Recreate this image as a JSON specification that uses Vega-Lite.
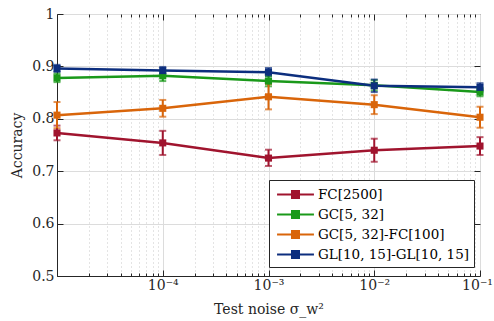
{
  "$schema": "https://vega.github.io/schema/vega-lite/v6.json",
  "autosize": "none",
  "width": 423,
  "height": 262,
  "padding": {"left": 57, "top": 14, "right": 14, "bottom": 45},
  "background": "white",
  "config": {
    "view": {"stroke": "#262626", "strokeWidth": 1},
    "font": "DejaVu Serif",
    "axis": {"labelFont": "DejaVu Serif", "titleFont": "DejaVu Serif", "labelColor": "#262626", "titleColor": "#262626", "titleFontWeight": "normal", "domainColor": "#262626", "tickColor": "#262626"}
  },
  "data": {"values": [
    {"series": "FC[2500]", "x": 0.00001, "y": 0.773, "lo": 0.759, "hi": 0.787},
    {"series": "FC[2500]", "x": 0.0001, "y": 0.754, "lo": 0.731, "hi": 0.777},
    {"series": "FC[2500]", "x": 0.001, "y": 0.725, "lo": 0.710, "hi": 0.741},
    {"series": "FC[2500]", "x": 0.01, "y": 0.740, "lo": 0.718, "hi": 0.762},
    {"series": "FC[2500]", "x": 0.1, "y": 0.748, "lo": 0.731, "hi": 0.765},
    {"series": "GC[5, 32]", "x": 0.00001, "y": 0.878, "lo": 0.870, "hi": 0.886},
    {"series": "GC[5, 32]", "x": 0.0001, "y": 0.882, "lo": 0.872, "hi": 0.892},
    {"series": "GC[5, 32]", "x": 0.001, "y": 0.872, "lo": 0.862, "hi": 0.882},
    {"series": "GC[5, 32]", "x": 0.01, "y": 0.864, "lo": 0.854, "hi": 0.874},
    {"series": "GC[5, 32]", "x": 0.1, "y": 0.851, "lo": 0.843, "hi": 0.859},
    {"series": "GC[5, 32]-FC[100]", "x": 0.00001, "y": 0.807, "lo": 0.782, "hi": 0.832},
    {"series": "GC[5, 32]-FC[100]", "x": 0.0001, "y": 0.820, "lo": 0.804, "hi": 0.836},
    {"series": "GC[5, 32]-FC[100]", "x": 0.001, "y": 0.842, "lo": 0.818, "hi": 0.866},
    {"series": "GC[5, 32]-FC[100]", "x": 0.01, "y": 0.827, "lo": 0.809, "hi": 0.845},
    {"series": "GC[5, 32]-FC[100]", "x": 0.1, "y": 0.803, "lo": 0.783, "hi": 0.823},
    {"series": "GL[10, 15]-GL[10, 15]", "x": 0.00001, "y": 0.896, "lo": 0.889, "hi": 0.903},
    {"series": "GL[10, 15]-GL[10, 15]", "x": 0.0001, "y": 0.892, "lo": 0.885, "hi": 0.899},
    {"series": "GL[10, 15]-GL[10, 15]", "x": 0.001, "y": 0.889, "lo": 0.881, "hi": 0.897},
    {"series": "GL[10, 15]-GL[10, 15]", "x": 0.01, "y": 0.863, "lo": 0.851, "hi": 0.875},
    {"series": "GL[10, 15]-GL[10, 15]", "x": 0.1, "y": 0.860, "lo": 0.852, "hi": 0.868}
  ]},
  "resolve": {"axis": {"x": "independent", "y": "independent"}},
  "layer": [
    {
      "mark": {"type": "line", "strokeWidth": 2.5},
      "encoding": {
        "x": {"field": "x", "type": "quantitative",
          "scale": {"type": "log", "domain": [0.00001, 0.1], "nice": false},
          "axis": {
            "orient": "bottom",
            "title": "Test noise σ_w²",
            "titleFontSize": 14, "titlePadding": 7,
            "labelFontSize": 14,
            "values": [0.00002,0.00003,0.00004,0.00005,0.00006,0.00007,0.00008,0.00009,0.0001,0.0002,0.0003,0.0004,0.0005,0.0006,0.0007,0.0008,0.0009,0.001,0.002,0.003,0.004,0.005,0.006,0.007,0.008,0.009,0.01,0.02,0.03,0.04,0.05,0.06,0.07,0.08,0.09,0.1],
            "labelExpr": "datum.value == 0.0001 ? '10⁻⁴' : datum.value == 0.001 ? '10⁻³' : datum.value == 0.01 ? '10⁻²' : datum.value == 0.1 ? '10⁻¹' : ''",
            "labelFlush": false,
            "labelOverlap": false,
            "labelPadding": 8,
            "labelOffset": {"condition": {"test": "datum.value == 0.1", "value": -3}, "value": 0},
            "grid": true,
            "gridColor": {"condition": {"test": "datum.value == 0.0001 || datum.value == 0.001 || datum.value == 0.01 || datum.value == 0.1", "value": "#DCDCDC"}, "value": "#C8C8C8"},
            "gridDash": {"condition": {"test": "datum.value == 0.0001 || datum.value == 0.001 || datum.value == 0.01 || datum.value == 0.1", "value": []}, "value": [1, 3]},
            "tickSize": {"condition": {"test": "datum.value == 0.0001 || datum.value == 0.001 || datum.value == 0.01 || datum.value == 0.1", "value": -6}, "value": -3}
          }},
        "y": {"field": "y", "type": "quantitative",
          "scale": {"domain": [0.5, 1], "nice": false, "zero": false},
          "axis": {"orient": "left", "title": "Accuracy", "titleFontSize": 14, "titlePadding": 7,
            "labelFontSize": 14, "values": [0.5, 0.6, 0.7, 0.8, 0.9, 1], "format": "~g",
            "labelPadding": 9, "tickSize": -6, "grid": true, "gridColor": "#DCDCDC", "labelFlush": false}},
        "color": {"field": "series", "type": "nominal",
          "scale": {"domain": ["FC[2500]", "GC[5, 32]", "GC[5, 32]-FC[100]", "GL[10, 15]-GL[10, 15]"],
                    "range": ["#A0142E", "#1A991A", "#D9650A", "#0C2E7E"]},
          "legend": {
            "orient": "none", "legendX": 212, "legendY": 166,
            "title": null, "fillColor": "white", "strokeColor": "#262626",
            "padding": 4, "rowPadding": 1,
            "labelFont": "DejaVu Serif", "labelFontSize": 13.5, "labelColor": "#000000",
            "symbolType": "M-2,0H2M-0.38,-0.38H0.38V0.38H-0.38Z",
            "symbolSize": 340, "symbolOffset": 12, "labelOffset": 12,
            "symbolStrokeWidth": 2,
            "encode": {"symbols": {"update": {"fill": {"scale": "color", "field": "value"}, "stroke": {"scale": "color", "field": "value"}, "strokeWidth": {"value": 2}}}}
          }}
      }
    },
    {
      "mark": {"type": "errorbar", "ticks": {"size": 7, "thickness": 2}, "rule": {"strokeWidth": 2}},
      "encoding": {
        "x": {"field": "x", "type": "quantitative", "axis": null},
        "y": {"field": "lo", "type": "quantitative", "axis": null},
        "y2": {"field": "hi"},
        "color": {"field": "series", "type": "nominal", "legend": null}
      }
    },
    {
      "mark": {"type": "point", "shape": "square", "filled": true, "opacity": 1, "size": 50},
      "encoding": {
        "x": {"field": "x", "type": "quantitative", "axis": null},
        "y": {"field": "y", "type": "quantitative", "axis": null},
        "color": {"field": "series", "type": "nominal", "legend": null}
      }
    },
    {
      "mark": {"type": "point", "opacity": 0},
      "encoding": {
        "x": {"field": "x", "type": "quantitative",
          "axis": {"orient": "top", "title": null, "labels": false, "grid": false, "domain": false,
            "values": [0.00002,0.00003,0.00004,0.00005,0.00006,0.00007,0.00008,0.00009,0.0001,0.0002,0.0003,0.0004,0.0005,0.0006,0.0007,0.0008,0.0009,0.001,0.002,0.003,0.004,0.005,0.006,0.007,0.008,0.009,0.01,0.02,0.03,0.04,0.05,0.06,0.07,0.08,0.09],
            "tickSize": {"condition": {"test": "datum.value == 0.0001 || datum.value == 0.001 || datum.value == 0.01", "value": -6}, "value": -3}}},
        "y": {"field": "y", "type": "quantitative",
          "axis": {"orient": "right", "title": null, "labels": false, "grid": false, "domain": false,
            "values": [0.6, 0.7, 0.8, 0.9], "tickSize": -6}}
      }
    }
  ]
}
